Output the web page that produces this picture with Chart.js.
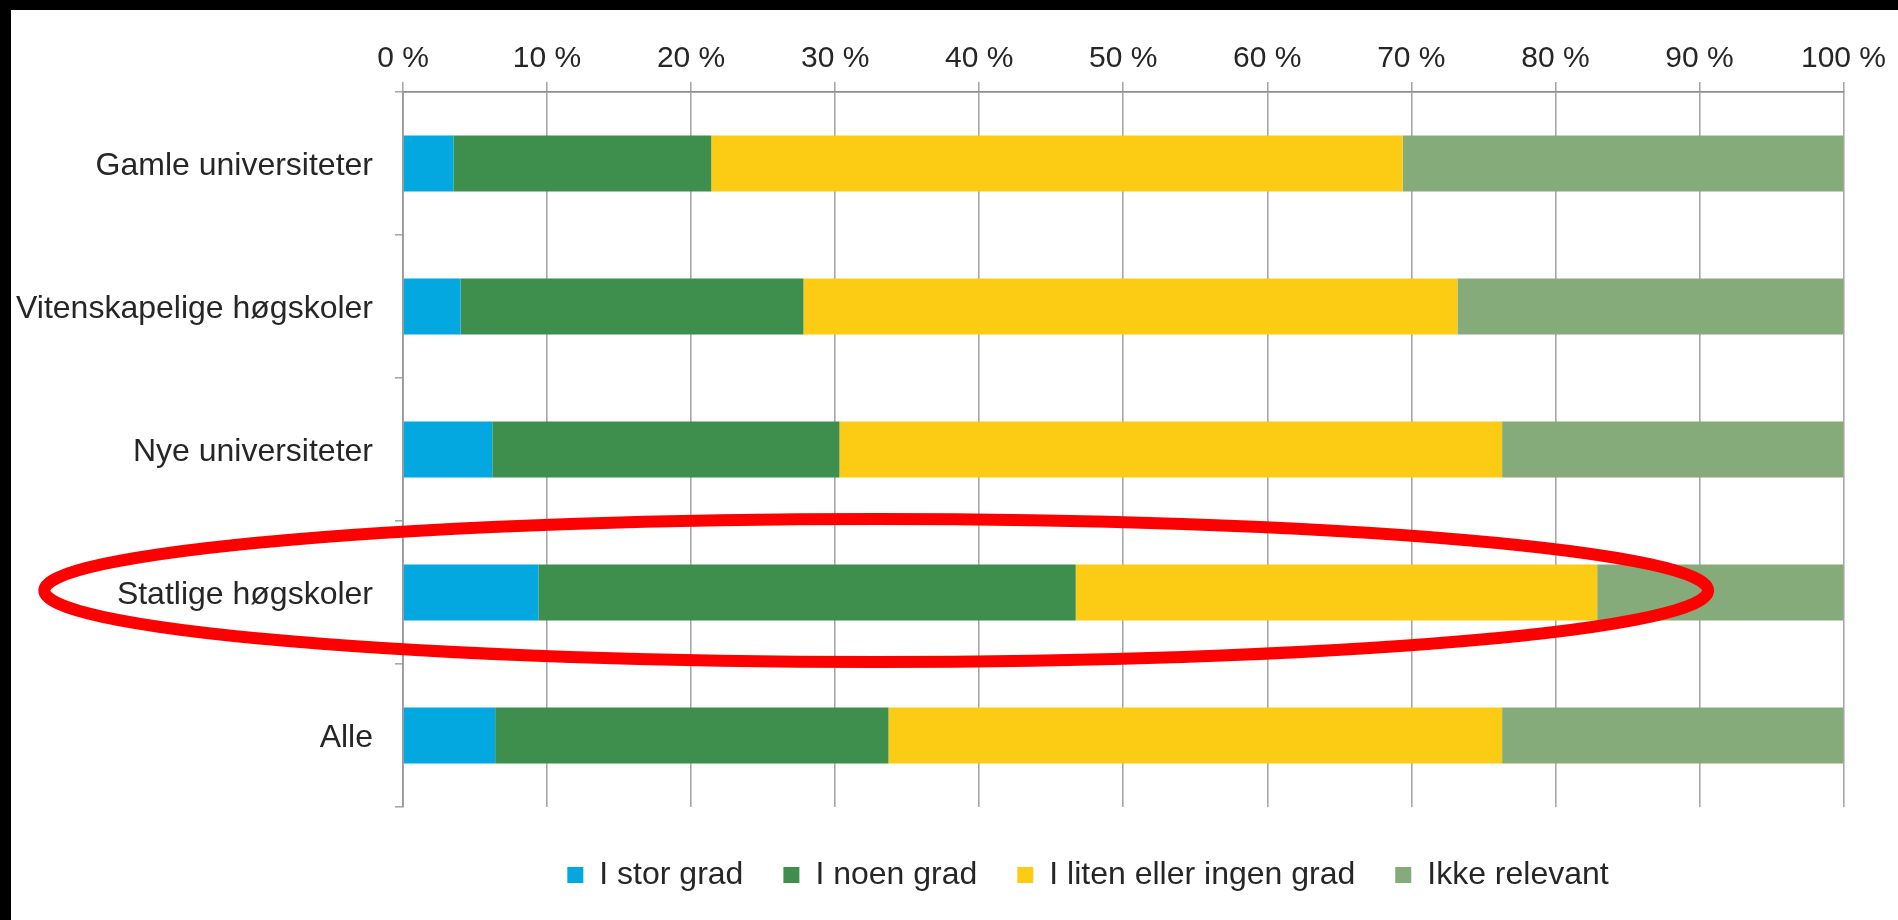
<!DOCTYPE html>
<html>
<head>
<meta charset="utf-8">
<script src="https://cdn.jsdelivr.net/npm/chart.js@4/dist/chart.umd.min.js"></script>
<style>
html, body { margin: 0; padding: 0; background: #ffffff; overflow: hidden; }
#wrap { position: absolute; left: 0; top: 0; width: 1898px; height: 920px; }
.frame-top { position: absolute; left: 0; top: 0; width: 1898px; height: 10px; background: #000; }
.frame-left { position: absolute; left: 0; top: 0; width: 11px; height: 920px; background: #000; }
</style>
</head>
<body>
<div id="wrap"><canvas id="chart"></canvas></div>
<div class="frame-top"></div>
<div class="frame-left"></div>
<script>
// ---- data ----
const categories = ['Gamle universiteter', 'Vitenskapelige høgskoler', 'Nye universiteter', 'Statlige høgskoler', 'Alle'];
const seriesNames = ['I stor grad', 'I noen grad', 'I liten eller ingen grad', 'Ikke relevant'];
const iStorGrad = [3.5, 4.0, 6.2, 9.4, 6.4];
const iNoenGrad = [17.9, 23.8, 24.1, 37.3, 27.3];
const iLitenEllerIngenGrad = [48.0, 45.4, 46.0, 36.2, 42.6];
const ikkeRelevant = [30.6, 26.8, 23.7, 17.1, 23.7];
const tickSuffix = ' %';

// highlighted row (red ellipse annotation), range given in axis percent units
const highlightCategory = 'Statlige høgskoler';
const highlightFrom = -24.9;
const highlightTo = 90.6;

const seriesColors = ['#02A8DF', '#3E8E4E', '#FCCC14', '#85AB7A'];
const FONT = '"Liberation Sans", Arial, Helvetica, sans-serif';
const TEXT = '#262626';
const GRID = '#A8A8A8';

// let the category labels use the free space left of the axis box (avoid clipping)
const labelRoomPlugin = {
  id: 'labelRoom',
  afterLayout(chart) {
    chart.scales.y.left = 0;
  }
};

const ellipsePlugin = {
  id: 'highlightEllipse',
  afterDraw(chart) {
    const xs = chart.scales.x, ys = chart.scales.y;
    const idx = categories.indexOf(highlightCategory);
    if (idx < 0) return;
    const cy = ys.getPixelForValue(idx) - 2;
    const band = Math.abs(ys.getPixelForValue(1) - ys.getPixelForValue(0));
    const l = xs.getPixelForValue(highlightFrom);
    const r = xs.getPixelForValue(highlightTo);
    const ctx = chart.ctx;
    ctx.save();
    ctx.beginPath();
    ctx.ellipse((l + r) / 2, cy, (r - l) / 2, band / 2, 0, 0, Math.PI * 2);
    ctx.lineWidth = 12;
    ctx.strokeStyle = '#FF0000';
    ctx.stroke();
    ctx.restore();
  }
};

const seriesData = [iStorGrad, iNoenGrad, iLitenEllerIngenGrad, ikkeRelevant];

new Chart(document.getElementById('chart'), {
  type: 'bar',
  data: {
    labels: categories,
    datasets: seriesNames.map((name, i) => ({
      label: name,
      data: seriesData[i],
      backgroundColor: seriesColors[i],
      borderWidth: 0,
      barPercentage: 0.393,
      categoryPercentage: 1.0
    }))
  },
  options: {
    indexAxis: 'y',
    responsive: true,
    maintainAspectRatio: false,
    animation: false,
    devicePixelRatio: 1,
    layout: { padding: { left: 332.5, right: 54.5, top: 0, bottom: 19 } },
    scales: {
      x: {
        position: 'top',
        stacked: true,
        min: 0,
        max: 100,
        afterFit(scale) { scale.height = 92; },
        ticks: {
          stepSize: 10,
          padding: 5,
          color: TEXT,
          font: { family: FONT, size: 30 },
          callback: (v) => v + tickSuffix
        },
        grid: { color: GRID, lineWidth: 1.6, tickLength: 10, drawTicks: true },
        border: { display: true, color: '#8E8E8E', width: 1.8 }
      },
      y: {
        stacked: true,
        afterFit(scale) { scale.width = 70.5; },
        ticks: {
          padding: 22,
          labelOffset: 3,
          color: TEXT,
          font: { family: FONT, size: 32 }
        },
        grid: { drawOnChartArea: false, drawTicks: true, tickLength: 8, color: GRID, lineWidth: 1.6 },
        border: { display: true, color: '#9A9A9A', width: 1.8 }
      }
    },
    plugins: {
      legend: {
        position: 'bottom',
        title: { display: true, text: ' ', font: { size: 1 }, padding: { top: 10.8, bottom: 0 } },
        labels: {
          boxWidth: 16,
          boxHeight: 16,
          padding: 40,
          color: TEXT,
          font: { family: FONT, size: 32 }
        }
      },
      tooltip: { enabled: false }
    }
  },
  plugins: [labelRoomPlugin, ellipsePlugin]
});
</script>
</body>
</html>
